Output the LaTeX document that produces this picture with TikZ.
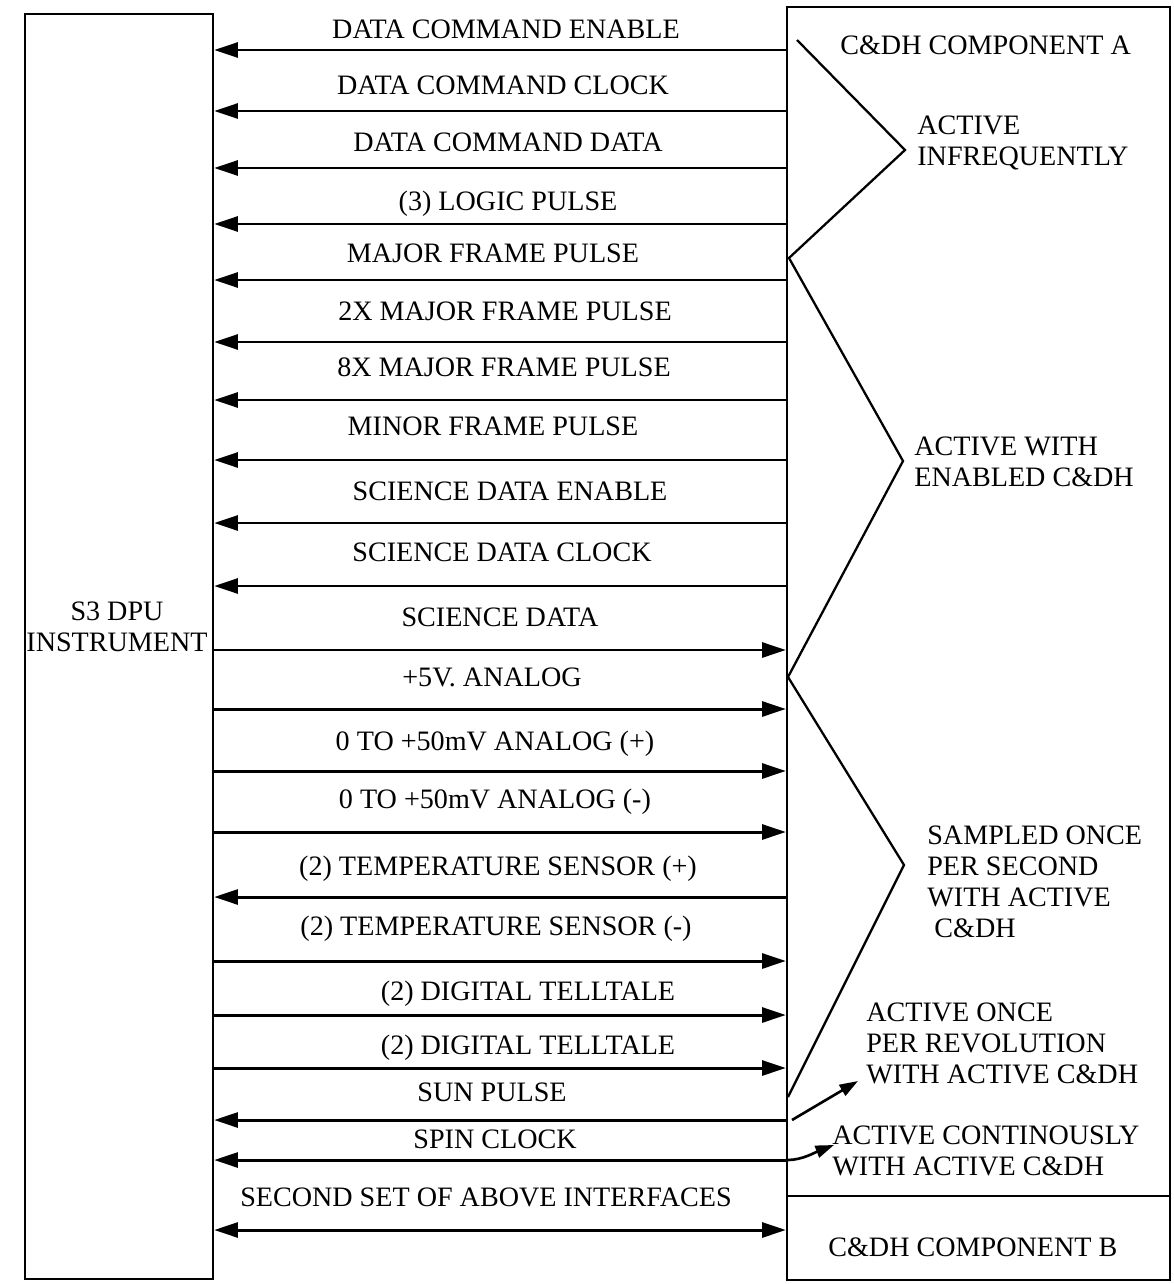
\documentclass[tikz,border=0pt]{standalone}
\usepackage{fontspec}
\setmainfont{Liberation Serif}
\usetikzlibrary{arrows.meta}
\begin{document}
\begin{tikzpicture}[x=0.02cm,y=-0.02cm,
  box/.style={draw,line width=1.4pt,inner sep=0pt},
  sig/.style={line width=1.7pt},
  head/.tip={Triangle[length=13.5pt,width=8.5pt]},
  small/.tip={Triangle[length=10.5pt,width=7pt]},
  lbl/.style={font=\fontsize{16}{17.6}\selectfont,inner sep=0pt,anchor=base},
  note/.style={font=\fontsize{16}{17.6}\selectfont,inner sep=0pt,align=left,anchor=west}]
\useasboundingbox (0,0) rectangle (1173,1284);
% boxes
\node[box,minimum width=3.76cm,minimum height=25.3cm] (dpu) at (119,646.5) {};
\node[box,minimum width=7.66cm,minimum height=23.78cm] (cdha) at (978.5,601.5) {};
\node[box,minimum width=7.66cm,minimum height=1.68cm] (cdhb) at (978.5,1238) {};
\node[font=\fontsize{16}{17.6}\selectfont,align=center,inner sep=0pt] (dpulbl) at (117,627) {S3 DPU\\INSTRUMENT};
\node[note] (compa) at (840,45) {C\&DH COMPONENT A};
\node[note] (compb) at (828,1247) {C\&DH COMPONENT B};
% signal labels
\node[lbl] (l1) at (506,39) {DATA COMMAND ENABLE};
\node[lbl] (l2) at (503,95) {DATA COMMAND CLOCK};
\node[lbl] (l3) at (508,152) {DATA COMMAND DATA};
\node[lbl] (l4) at (508,211) {(3) LOGIC PULSE};
\node[lbl] (l5) at (493,262) {MAJOR FRAME PULSE};
\node[lbl] (l6) at (505,320) {2X MAJOR FRAME PULSE};
\node[lbl] (l7) at (504,376) {8X MAJOR FRAME PULSE};
\node[lbl] (l8) at (493,435) {MINOR FRAME PULSE};
\node[lbl] (l9) at (510,500) {SCIENCE DATA ENABLE};
\node[lbl] (l10) at (502,561) {SCIENCE DATA CLOCK};
\node[lbl] (l11) at (500,626) {SCIENCE DATA};
\node[lbl] (l12) at (492,686) {+5V. ANALOG};
\node[lbl] (l13) at (495,750) {0 TO +50mV ANALOG (+)};
\node[lbl] (l14) at (495,808) {0 TO +50mV ANALOG (-)};
\node[lbl] (l15) at (498,875) {(2) TEMPERATURE SENSOR (+)};
\node[lbl] (l16) at (496,935) {(2) TEMPERATURE SENSOR (-)};
\node[lbl] (l17) at (528,1000) {(2) DIGITAL TELLTALE};
\node[lbl] (l18) at (528,1054) {(2) DIGITAL TELLTALE};
\node[lbl] (l19) at (492,1101) {SUN PULSE};
\node[lbl] (l20) at (495,1148) {SPIN CLOCK};
\node[lbl] (l21) at (486,1206) {SECOND SET OF ABOVE INTERFACES};
% signals C&DH -> DPU
\foreach \yy in {50,111,168,224,280,342,400,460,523,586,897,1120,1160}
  \draw[sig,-head] (cdha.west |- 0,\yy) -- (dpu.east |- 0,\yy);
% signals DPU -> C&DH
\foreach \yy in {650,709,771,832,961,1015,1068}
  \draw[sig,-head] (dpu.east |- 0,\yy) -- (cdha.west |- 0,\yy);
% second set
\draw[sig,head-head] (dpu.east |- 0,1230) -- (cdhb.west |- 0,1230);
% grouping brackets
\coordinate (z0) at (797,40);
\coordinate (z1) at (905,150);
\coordinate (z2) at (789,258);
\coordinate (z3) at (903,461);
\coordinate (z4) at (788,677);
\coordinate (z5) at (904,865);
\coordinate (z6) at (788,1097);
\draw[line width=1.3pt] (z0) -- (z1) -- (z2) -- (z3) -- (z4) -- (z5) -- (z6);
% group notes
\node[note] (n1) at (917,143) {ACTIVE\\INFREQUENTLY};
\node[note] (n2) at (914,462) {ACTIVE WITH\\ENABLED C\&DH};
\node[note] (n3) at (927,882) {SAMPLED ONCE\\PER SECOND\\WITH ACTIVE\\\hspace{4pt}C\&DH};
\node[note] (n4) at (866,1043) {ACTIVE ONCE\\PER REVOLUTION\\WITH ACTIVE C\&DH};
\node[note] (n5) at (832,1151) {ACTIVE CONTINOUSLY\\WITH ACTIVE C\&DH};
% pointer arrows
\coordinate (s1) at (792,1120);
\coordinate (s2) at (858,1081);
\draw[line width=1.5pt,-small] (s1) -- (s2);
\coordinate (c1) at (788,1160);
\coordinate (c2) at (834,1145);
\draw[line width=1.5pt,-small] (c1) .. controls (802,1160) and (816,1152) .. (c2);
\end{tikzpicture}
\end{document}
